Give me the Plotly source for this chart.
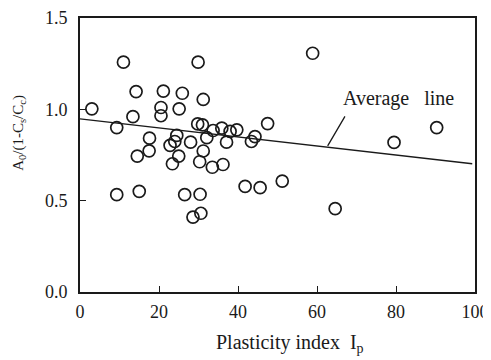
import plotly.graph_objects as go

# Data
ip_values = [3.0, 11.0, 29.9, 14.2, 21.1, 25.9, 31.2, 20.5, 20.5, 25.1,
             13.4, 9.3, 29.8, 31.0, 17.6, 17.5, 14.5, 24.5, 24.0, 22.8,
             28.0, 32.1, 33.7, 35.9, 38.0, 39.7, 37.1, 43.4, 44.3, 47.5,
             25.0, 23.4, 30.3, 31.2, 33.5, 36.2, 41.8, 45.6, 51.2, 58.9,
             64.6, 79.5, 90.3, 9.3, 15.0, 26.5, 30.4, 28.6, 30.6]
ratio_values = [1.003, 1.258, 1.258, 1.097, 1.100, 1.088, 1.054, 1.010, 0.965, 1.003,
                0.960, 0.900, 0.920, 0.915, 0.842, 0.773, 0.744, 0.857, 0.824, 0.803,
                0.820, 0.845, 0.884, 0.897, 0.879, 0.888, 0.820, 0.824, 0.851, 0.922,
                0.744, 0.702, 0.713, 0.772, 0.683, 0.698, 0.578, 0.571, 0.607, 1.307,
                0.456, 0.819, 0.900, 0.533, 0.551, 0.533, 0.535, 0.410, 0.431]
avg_line_x = [0, 99.3]
avg_line_y = [0.948, 0.702]
x_ticks = [0, 20, 40, 60, 80, 100]
y_ticks = [0.0, 0.5, 1.0, 1.5]

FONT = "Liberation Serif"
INK = "#1a1a1a"

# plot area in window pixels: x 80..475, y 18..292.5 (page body has an 8px margin)
PW, PH = 395.0, 274.5

fig = go.Figure()
fig.add_trace(go.Scatter(x=avg_line_x, y=avg_line_y, mode="lines",
                         line=dict(color=INK, width=1.4), hoverinfo="skip"))
fig.add_trace(go.Scatter(x=ip_values, y=ratio_values, mode="markers",
                         marker=dict(symbol="circle-open", size=12,
                                     color=INK, line=dict(width=1.7, color=INK))))

# Pointer from label to line
fig.add_annotation(x=62.7, y=0.80, ax=67.3, ay=0.97, xref="x", yref="y",
                   axref="x", ayref="y", text="", showarrow=True,
                   arrowhead=0, arrowwidth=1.3, arrowcolor=INK)
fig.add_annotation(x=66.0, y=1.058, xref="x", yref="y",
                   text="Average&nbsp;&nbsp;&nbsp;line",
                   showarrow=False, xanchor="left", yanchor="middle",
                   font=dict(family=FONT, size=20, color=INK))

# Axis titles
fig.add_annotation(x=(290 - 80) / PW, y=-(344 - 292.5) / PH, xref="paper", yref="paper",
                   text="Plasticity index&nbsp;&nbsp;I<sub>p</sub>", showarrow=False,
                   xanchor="center", yanchor="middle",
                   font=dict(family=FONT, size=20, color=INK))
fig.add_annotation(x=-(80 - 19) / PW, y=(292.5 - 133) / PH, xref="paper", yref="paper",
                   text="A<sub>0</sub>/(1-C<sub>s</sub>/C<sub>c</sub>)", showarrow=False,
                   textangle=-90, xanchor="center", yanchor="middle",
                   font=dict(family=FONT, size=15, color=INK))

axis_common = dict(showgrid=False, zeroline=False, showline=True, linecolor=INK,
                   linewidth=1.8, mirror=True, ticks="inside", ticklen=6,
                   tickwidth=1.4, tickcolor=INK,
                   tickfont=dict(family=FONT, size=18, color=INK))
fig.update_xaxes(range=[0, 100], tickvals=x_ticks, ticktext=[str(v) for v in x_ticks],
                 ticklabelstandoff=2, **axis_common)
fig.update_yaxes(range=[0, 1.5], tickvals=y_ticks, ticktext=[f"{v:.1f}" for v in y_ticks],
                 ticklabelstandoff=7, **axis_common)

fig.update_layout(width=483, height=352, showlegend=False,
                  margin=dict(l=72, r=16, t=10, b=67.5, autoexpand=False),
                  plot_bgcolor="white", paper_bgcolor="white")

fig.write_html("out.html")
